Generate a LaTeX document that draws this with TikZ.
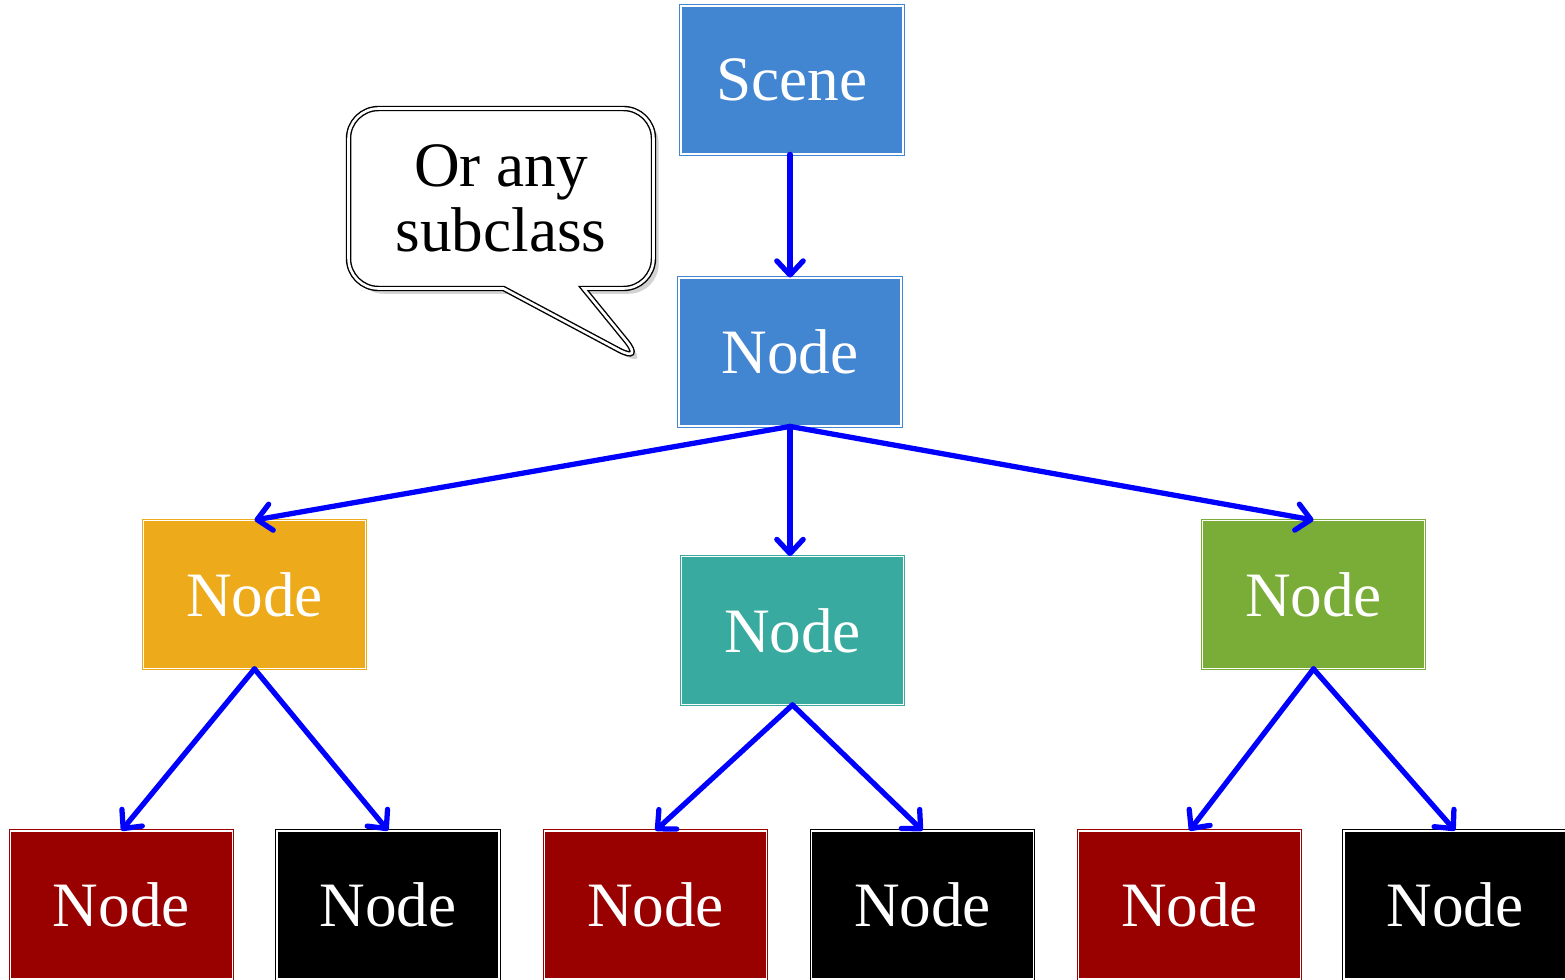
\documentclass[tikz,border=0pt]{standalone}
\usepackage{fontspec}
\setmainfont{Liberation Serif}
\usetikzlibrary{arrows.meta,shadows,shapes.callouts}
\definecolor{cblue}{RGB}{66,133,208}
\definecolor{cyel}{RGB}{237,170,26}
\definecolor{cteal}{RGB}{56,170,160}
\definecolor{cgreen}{RGB}{122,172,56}
\definecolor{cred}{RGB}{153,0,0}
\definecolor{carr}{RGB}{0,0,255}
\begin{document}
\begin{tikzpicture}[x=0.02cm, y=-0.02cm,
    box/.style={draw=#1, fill=#1, double=white, double distance=0.9pt,
                line width=0.5pt, minimum width=4.44cm, minimum height=2.96cm,
                inner sep=0pt, text=white, font=\fontsize{36}{37}\selectfont},
    arr/.style={-{Straight Barb[length=8pt,width=15pt,round]}, line width=3pt,
                carr, line cap=round},
    every node/.style={inner sep=3pt}]

    \useasboundingbox (0,0) rectangle (1565,980);

    % ── top ──────────────────────────────────────────────────
    \node[box=cblue] (scene) at (792,80) {Scene};
    \node[box=cblue] (root) at (790,352) {Node};
    \draw[arr] (scene.south -| root) -- (root.north);

    % ── callout ──────────────────────────────────────────────
    \node[rectangle callout, rounded corners=0.6cm, draw=black, fill=white,
          double=white, double distance=1.5pt, line width=0.8pt,
          minimum width=6.1cm, minimum height=3.6cm, align=center,
          callout absolute pointer={(645,364)}, callout pointer width=1.6cm,
          drop shadow={shadow xshift=3pt, shadow yshift=-3pt, opacity=0.35},
          font=\fontsize{36}{37}\selectfont] (note) at (501,198.5)
      {Or any\\subclass};

    % ── middle row ───────────────────────────────────────────
    \node[box=cyel] (m1) at (254.5,594.5) {Node};
    \node[box=cteal] (m2) at (792.5,630.5) {Node};
    \node[box=cgreen] (m3) at (1313.5,594.5) {Node};
    \draw[arr] (root.south) -- (m1.north);
    \draw[arr] (root.south) -- (m2.north -| root);
    \draw[arr] (root.south) -- (m3.north);

    % ── bottom row ───────────────────────────────────────────
    \node[box=cred] (l1) at (121.5,905) {Node};
    \node[box=black] (l2) at (388,905) {Node};
    \node[box=cred] (l3) at (655.5,905) {Node};
    \node[box=black] (l4) at (922.5,905) {Node};
    \node[box=cred] (l5) at (1189.5,905) {Node};
    \node[box=black] (l6) at (1455,905) {Node};
    \draw[arr] (m1.south) -- (l1.north);
    \draw[arr] (m1.south) -- (l2.north);
    \draw[arr] (m2.south) -- (l3.north);
    \draw[arr] (m2.south) -- (l4.north);
    \draw[arr] (m3.south) -- (l5.north);
    \draw[arr] (m3.south) -- (l6.north);

\end{tikzpicture}
\end{document}
